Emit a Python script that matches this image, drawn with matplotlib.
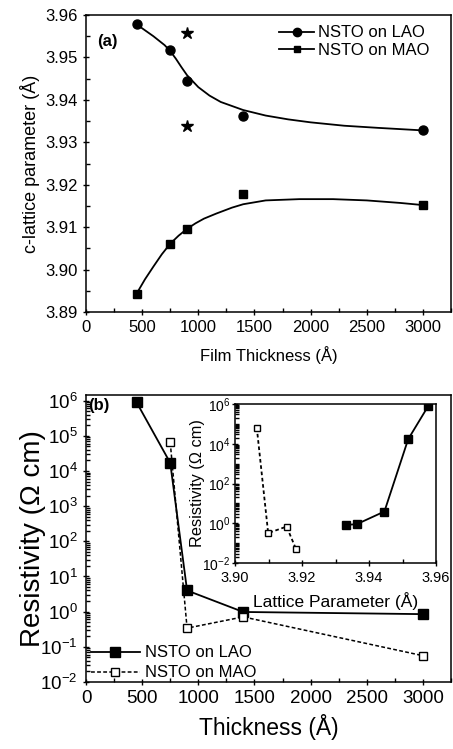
import matplotlib
matplotlib.use("Agg")
import matplotlib.pyplot as plt
from matplotlib.ticker import MultipleLocator, LogLocator, FixedLocator, NullFormatter

plt.rcParams['font.family'] = ['Liberation Sans', 'DejaVu Sans']

# (a) c-lattice parameter vs film thickness
thick_lao = [450, 750, 900, 1400, 3000]
c_lao = [3.9578, 3.9517, 3.9445, 3.9362, 3.9328]
thick_mao = [450, 750, 900, 1400, 3000]
c_mao = [3.8943, 3.9061, 3.9096, 3.9178, 3.9152]
star_x = [900, 900]
star_y = [3.9557, 3.9338]

# guide curves
fit_lao_x = [450, 600, 700, 750, 800, 850, 900, 1000, 1100, 1200, 1400, 1600, 1800, 2000, 2300, 2600, 3000]
fit_lao_y = [3.9578, 3.9550, 3.9529, 3.9515, 3.9497, 3.9477, 3.9458, 3.9430, 3.9410, 3.9395, 3.9376, 3.9363, 3.9354, 3.9347, 3.9339, 3.9334, 3.9328]
fit_mao_x = [450, 525, 600, 675, 750, 825, 900, 975, 1050, 1160, 1300, 1400, 1600, 1900, 2200, 2500, 2800, 3000]
fit_mao_y = [3.8943, 3.8977, 3.9007, 3.9036, 3.9061, 3.9080, 3.9096, 3.9109, 3.9120, 3.9132, 3.9146, 3.9154, 3.9163, 3.9166, 3.9166, 3.9163, 3.9157, 3.9152]

# (b) resistivity vs thickness
rho_thick_lao = [450, 750, 900, 1400, 3000]
rho_lao = [9e5, 1.7e4, 4.0, 0.98, 0.85]
rho_thick_mao = [750, 900, 1400, 3000]
rho_mao = [6.5e4, 0.34, 0.71, 0.056]

# inset: resistivity vs lattice parameter
lat_lao = [3.9330, 3.9363, 3.9446, 3.9517, 3.9577]
lat_rho_lao = [0.83, 0.89, 3.9, 1.7e4, 8e5]
lat_mao = [3.9065, 3.9099, 3.9154, 3.9182]
lat_rho_mao = [6.5e4, 0.32, 0.68, 0.051]

W, H = 453, 749
fig = plt.figure(figsize=(W / 100, H / 100), dpi=100)


def box(l, t, r, b):
    return [l / W, 1 - b / H, (r - l) / W, (b - t) / H]


def style_ticks(ax, size=12):
    ax.tick_params(which='major', direction='inout', length=5, width=1, labelsize=size)
    ax.tick_params(which='minor', direction='in', length=3, width=1)
    for s in ax.spines.values():
        s.set_linewidth(1.1)


# ---- panel (a)
ax1 = fig.add_axes(box(86, 15, 451, 312))
ax1.plot(fit_lao_x, fit_lao_y, color='black', lw=1.3)
ax1.plot(fit_mao_x, fit_mao_y, color='black', lw=1.3)
ax1.plot(thick_lao, c_lao, 'o', color='black', ms=6.5)
ax1.plot(thick_mao, c_mao, 's', color='black', ms=5.5)
ax1.plot(star_x, star_y, '*', color='black', ms=9, ls='none')
# legend handles show line+marker
h1, = ax1.plot([], [], '-o', color='black', ms=6, lw=1.3)
h2, = ax1.plot([], [], '-s', color='black', ms=5, lw=1.3)
ax1.legend([h1, h2], ['NSTO on LAO', 'NSTO on MAO'], loc='upper right',
           bbox_to_anchor=(0.94, 0.965), frameon=False,
           fontsize=12, handlelength=2.1, handletextpad=0.2, labelspacing=0.15,
           borderaxespad=0, borderpad=0)
ax1.set_xlim(0, 3250)
ax1.set_ylim(3.89, 3.96)
ax1.xaxis.set_major_locator(MultipleLocator(500))
ax1.xaxis.set_minor_locator(MultipleLocator(250))
ax1.yaxis.set_major_locator(MultipleLocator(0.01))
ax1.yaxis.set_minor_locator(MultipleLocator(0.005))
ax1.set_yticks(ax1.get_yticks())
ax1.set_yticklabels([f"{v:.2f}" for v in ax1.get_yticks()])
ax1.set_ylim(3.89, 3.96)
style_ticks(ax1, 12)
ax1.set_xlabel('Film Thickness (\u00c5)', fontsize=12, labelpad=8)
ax1.set_ylabel('c-lattice parameter (\u00c5)', fontsize=13, labelpad=4)
ax1.text(0.03, 0.91, '(a)', transform=ax1.transAxes, fontsize=12,
         fontweight='bold', va='center')

# ---- panel (b)
ax2 = fig.add_axes(box(86, 395, 451, 682))
ax2.plot(rho_thick_lao, rho_lao, '-s', color='black', mfc='black', ms=7, lw=1.3,
         label='NSTO on LAO')
ax2.plot(rho_thick_mao, rho_mao, '--s', color='black', mfc='white', ms=5.5, lw=1.1,
         dashes=(2.5, 1.5), label='NSTO on MAO')
ax2.set_yscale('log')
ax2.set_xlim(0, 3250)
ax2.set_ylim(1e-2, 10 ** 6.16)
ax2.xaxis.set_major_locator(MultipleLocator(500))
ax2.xaxis.set_minor_locator(MultipleLocator(250))
ax2.yaxis.set_major_locator(LogLocator(base=10, numticks=20))
ax2.yaxis.set_minor_locator(LogLocator(base=10, subs=range(2, 10), numticks=20))
ax2.yaxis.set_minor_formatter(NullFormatter())
style_ticks(ax2, 13.5)
ax2.set_xlabel('Thickness (\u00c5)', fontsize=16.5, labelpad=5)
ax2.set_ylabel('Resistivity (\u03a9 cm)', fontsize=20, labelpad=-4)
ax2.text(0.005, 0.965, '(b)', transform=ax2.transAxes, fontsize=12,
         fontweight='bold', va='center')
ax2.legend(loc='lower left', bbox_to_anchor=(0.01, 0.0), frameon=False, fontsize=12,
           handlelength=2.9, handletextpad=0.35, labelspacing=0.3, borderaxespad=0,
           borderpad=0.1)

# ---- inset
ax3 = fig.add_axes(box(235, 404, 436, 563))
ax3.plot(lat_lao, lat_rho_lao, '-s', color='black', mfc='black', ms=5.5, lw=1.3)
ax3.plot(lat_mao, lat_rho_mao, '--s', color='black', mfc='white', ms=5, lw=1.3,
         dashes=(2, 1.5))
ax3.set_yscale('log')
ax3.xaxis.set_major_locator(MultipleLocator(0.02))
ax3.xaxis.set_minor_locator(MultipleLocator(0.01))
ax3.set_xlim(3.90, 3.96)
ax3.set_xticks([3.90, 3.92, 3.94, 3.96])
ax3.set_xticklabels(['3.90', '3.92', '3.94', '3.96'])
ax3.set_xlim(3.90, 3.96)
ax3.set_ylim(1e-2, 1e6)
ax3.yaxis.set_major_locator(FixedLocator([1e-2, 1e0, 1e2, 1e4, 1e6]))
ax3.yaxis.set_minor_locator(LogLocator(base=10, subs=range(1, 10), numticks=20))
ax3.yaxis.set_minor_formatter(NullFormatter())
style_ticks(ax3, 10.5)
ax3.tick_params(axis='y', which='major', labelsize=10, pad=1)
ax3.set_xlabel('Lattice Parameter (\u00c5)', fontsize=12.5, labelpad=5)
ax3.set_ylabel('Resistivity (\u03a9 cm)', fontsize=11.7, labelpad=-2)

fig.savefig('out.png', dpi=100)
